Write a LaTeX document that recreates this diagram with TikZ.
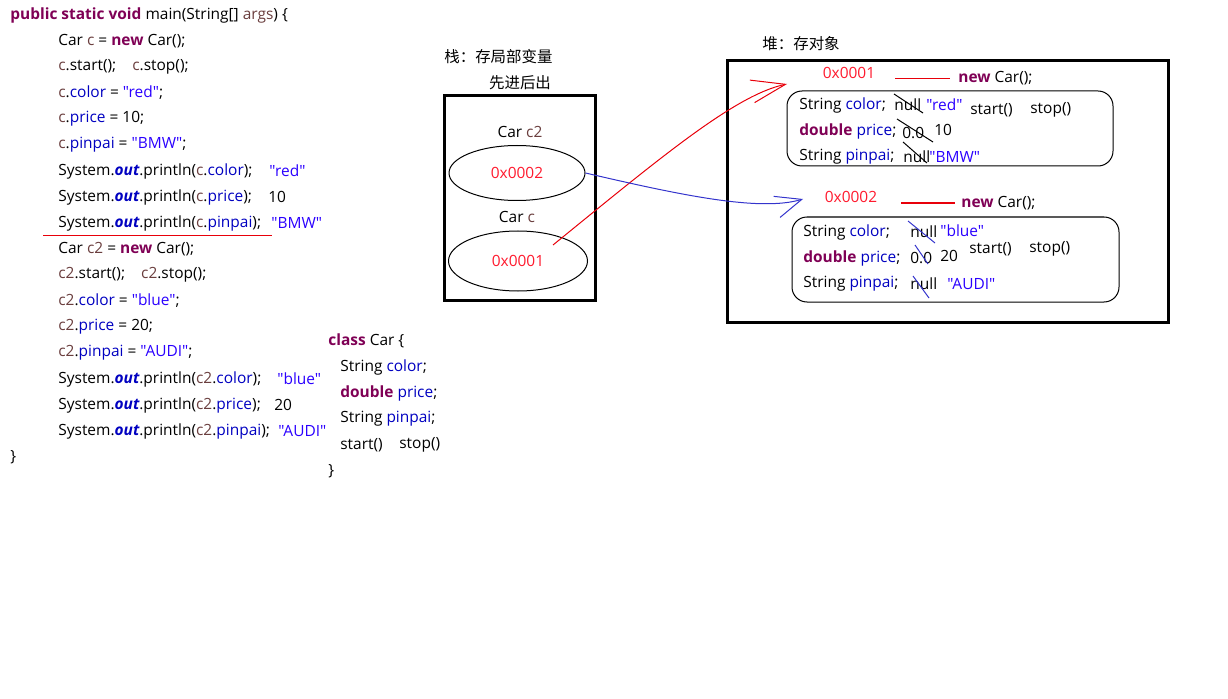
\documentclass[tikz,border=0pt]{standalone}
\usepackage{fontspec}
\newfontfamily\codefont{Open Sans}
\newfontfamily\cjk{Noto Sans CJK SC}
\usetikzlibrary{shapes.geometric,arrows.meta}

\definecolor{kwpurple}{HTML}{7F0055}
\definecolor{localbrown}{HTML}{6A3E3E}
\definecolor{fieldblue}{HTML}{0000C0}
\definecolor{strblue}{HTML}{2A00FF}
\definecolor{addrred}{HTML}{FF1A2E}
\definecolor{linkred}{HTML}{E8000A}
\definecolor{linkblue}{HTML}{3434CC}

\newcommand{\jkw}[1]{\textcolor{kwpurple}{\bfseries #1}}
\newcommand{\jloc}[1]{\textcolor{localbrown}{#1}}
\newcommand{\jfld}[1]{\textcolor{fieldblue}{#1}}
\newcommand{\jstr}[1]{\textcolor{strblue}{#1}}
\newcommand{\jout}{\textcolor{fieldblue}{\bfseries\itshape out}}

\begin{document}
\begin{tikzpicture}[
    txt/.style={anchor=west, inner sep=0pt},
    addr/.style={inner sep=0pt, text=addrred},
    frame/.style={draw, line width=0.06cm},
    objbox/.style={draw, line width=0.02cm, rounded corners=0.3cm},
    refcell/.style={draw, ellipse, line width=0.02cm, inner sep=0pt},
    strike/.style={line width=0.02cm},
    link/.style={line width=0.02cm, -{Straight Barb[length=0.68cm, width=0.46cm]}}
  ]
  \useasboundingbox (0,0) rectangle (24.56,13.96);
  {\codefont\fontsize{8.8pt}{10pt}\selectfont

  % Main method
  \node [txt] (main1) at (0.20,13.66) {\jkw{public static void} main(String[] \jloc{args}) \{};
  \node [txt] (main2) at (1.16,13.14) {Car \jloc{c} = \jkw{new} Car();};
  \node [txt] (main3) at (1.16,12.62) {\jloc{c}.start();\hspace{0.32cm}\jloc{c}.stop();};
  \node [txt] (main4) at (1.16,12.10) {\jloc{c}.\jfld{color} = \jstr{"red"};};
  \node [txt] (main5) at (1.16,11.58) {\jloc{c}.\jfld{price} = 10;};
  \node [txt] (main6) at (1.16,11.06) {\jloc{c}.\jfld{pinpai} = \jstr{"BMW"};};
  \node [txt] (main7) at (1.16,10.54) {System.\jout.println(\jloc{c}.\jfld{color});};
  \node [txt] (main8) at (1.16,10.02) {System.\jout.println(\jloc{c}.\jfld{price});};
  \node [txt] (main9) at (1.16,9.50) {System.\jout.println(\jloc{c}.\jfld{pinpai});};
  \node [txt] (res7) at (5.38,10.54) {\jstr{"red"}};
  \node [txt] (res8) at (5.36,10.02) {10};
  \node [txt] (res9) at (5.42,9.50) {\jstr{"BMW"}};

  % Separating line
  \draw [linkred, line width=0.02cm] (0.86,9.26) -- (5.44,9.26);

  \node [txt] (main10) at (1.16,8.98) {Car \jloc{c2} = \jkw{new} Car();};
  \node [txt] (main11) at (1.16,8.46) {\jloc{c2}.start();\hspace{0.32cm}\jloc{c2}.stop();};
  \node [txt] (main12) at (1.16,7.94) {\jloc{c2}.\jfld{color} = \jstr{"blue"};};
  \node [txt] (main13) at (1.16,7.42) {\jloc{c2}.\jfld{price} = 20;};
  \node [txt] (main14) at (1.16,6.90) {\jloc{c2}.\jfld{pinpai} = \jstr{"AUDI"};};
  \node [txt] (main15) at (1.16,6.38) {System.\jout.println(\jloc{c2}.\jfld{color});};
  \node [txt] (main16) at (1.16,5.86) {System.\jout.println(\jloc{c2}.\jfld{price});};
  \node [txt] (main17) at (1.16,5.34) {System.\jout.println(\jloc{c2}.\jfld{pinpai});};
  \node [txt] (res15) at (5.54,6.38) {\jstr{"blue"}};
  \node [txt] (res16) at (5.48,5.86) {20};
  \node [txt] (res17) at (5.56,5.34) {\jstr{"AUDI"}};
  \node [txt] (main18) at (0.20,4.82) {\}};

  % Class Car
  \node [txt] (cls1) at (6.56,7.14) {\jkw{class} Car \{};
  \node [txt] (cls2) at (6.80,6.62) {String \jfld{color};};
  \node [txt] (cls3) at (6.80,6.10) {\jkw{double} \jfld{price};};
  \node [txt] (cls4) at (6.80,5.58) {String \jfld{pinpai};};
  \node [txt] (cls5) at (6.80,5.06) {start()};
  \node [txt] (cls6) at (7.98,5.06) {stop()};
  \node [txt] (cls7) at (6.56,4.54) {\}};

  % Stack
  \node [txt] (stacktitle) at (8.88,12.82) {\cjk 栈：存局部变量};
  \node [inner sep=0pt] (stacknote) at (10.40,12.30) {\cjk 先进后出};
  \draw [frame] (8.88,12.04) rectangle (11.90,7.96);
  \node [inner sep=0pt] (namec2) at (10.40,11.32) {Car \jloc{c2}};
  \node [refcell, minimum width=2.72cm, minimum height=1.10cm] (refc2) at (10.34,10.50) {\textcolor{addrred}{0x0002}};
  \node [inner sep=0pt] (namec) at (10.34,9.62) {Car \jloc{c}};
  \node [refcell, minimum width=2.78cm, minimum height=1.20cm] (refc) at (10.36,8.74) {\textcolor{addrred}{0x0001}};

  % Heap
  \node [txt] (heaptitle) at (15.24,13.08) {\cjk 堆：存对象};
  \draw [frame] (14.54,12.74) rectangle (23.36,7.52);

  % Object 0x0001
  \node [addr] (addr1) at (16.98,12.50) {0x0001};
  \node [txt] (new1) at (19.16,12.40) {\jkw{new} Car();};
  \draw [linkred, line width=0.02cm] (17.90,12.38) -- (19.00,12.38);
  \draw [objbox] (15.74,12.14) rectangle (22.26,10.64);
  \node [txt] (fa1) at (15.98,11.86) {String \jfld{color};};
  \node [txt] (va1) at (17.88,11.86) {null};
  \node [txt] (wa1) at (18.52,11.86) {\jstr{"red"}};
  \node [txt] (starta) at (19.40,11.76) {start()};
  \node [txt] (stopa) at (20.60,11.76) {stop()};
  \node [txt] (fa2) at (15.98,11.34) {\jkw{double} \jfld{price};};
  \node [txt] (va2) at (18.04,11.30) {0.0};
  \node [txt] (wa2) at (18.68,11.36) {10};
  \node [txt] (fa3) at (15.98,10.82) {String \jfld{pinpai};};
  \node [txt] (va3) at (18.06,10.82) {null};
  \node [txt] (wa3) at (18.58,10.82) {\jstr{"BMW"}};
  \draw [strike] (17.88,12.08) -- (18.46,11.70);
  \draw [strike] (17.94,11.58) -- (18.66,11.12);
  \draw [strike] (18.06,11.12) -- (18.54,10.70);

  % Object 0x0002
  \node [addr] (addr2) at (17.02,10.02) {0x0002};
  \node [txt] (new2) at (19.22,9.90) {\jkw{new} Car();};
  \draw [linkred, line width=0.02cm] (18.02,9.90) -- (19.10,9.90);
  \draw [objbox] (15.84,9.62) rectangle (22.38,7.92);
  \node [txt] (fb1) at (16.06,9.32) {String \jfld{color};};
  \node [txt] (vb1) at (18.20,9.32) {null};
  \node [txt] (wb1) at (18.80,9.34) {\jstr{"blue"}};
  \node [txt] (startb) at (19.38,8.98) {start()};
  \node [txt] (stopb) at (20.58,8.98) {stop()};
  \node [txt] (fb2) at (16.06,8.80) {\jkw{double} \jfld{price};};
  \node [txt] (vb2) at (18.20,8.80) {0.0};
  \node [txt] (wb2) at (18.80,8.84) {20};
  \node [txt] (fb3) at (16.06,8.28) {String \jfld{pinpai};};
  \node [txt] (vb3) at (18.20,8.28) {null};
  \node [txt] (wb3) at (18.94,8.28) {\jstr{"AUDI"}};
  \draw [strike, linkblue] (18.16,9.54) -- (18.70,9.10);
  \draw [strike, linkblue] (18.30,9.06) -- (18.56,8.68);
  \draw [strike, linkblue] (18.26,8.44) -- (18.58,8.00);

  % References from stack to heap
  \coordinate (tailc) at (11.06,9.06);
  \coordinate (tipc) at (15.74,12.28);
  \coordinate (tipc2) at (16.06,9.98);
  \draw [link, linkred] (tailc) .. controls (13.20,10.80) and (14.70,12.06) .. (tipc);
  \draw [link, linkblue, -{Straight Barb[length=0.52cm, width=0.44cm]}] (refc2.east) .. controls (13.60,10.06) and (15.20,9.72) .. (tipc2);
  }
\end{tikzpicture}
\end{document}
